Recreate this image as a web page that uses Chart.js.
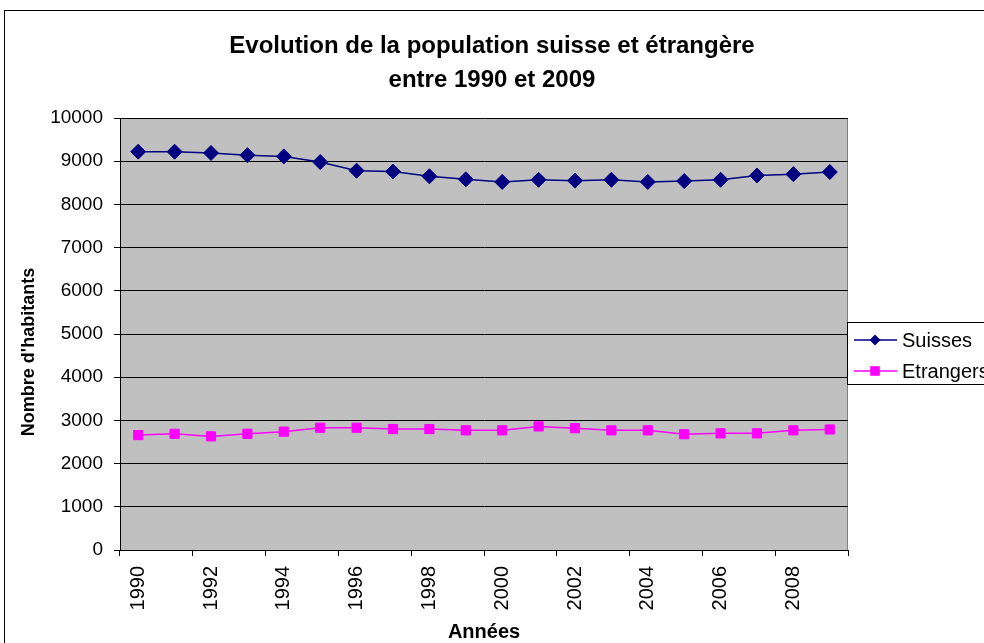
<!DOCTYPE html>
<html>
<head>
<meta charset="utf-8">
<script src="https://cdn.jsdelivr.net/npm/chart.js"></script>
<style>
html,body{margin:0;padding:0;background:#fff;overflow:hidden;}
#c{display:block;}
</style>
</head>
<body>
<canvas id="c" width="984" height="643"></canvas>
<script>
// ---- Data ----
const years = ['1990','1991','1992','1993','1994','1995','1996','1997','1998','1999','2000','2001','2002','2003','2004','2005','2006','2007','2008','2009'];
const suisses = [9220, 9220, 9190, 9140, 9110, 8980, 8780, 8760, 8650, 8580, 8520, 8570, 8550, 8570, 8520, 8540, 8570, 8670, 8700, 8750];
const etrangers = [2660, 2690, 2630, 2690, 2740, 2830, 2830, 2800, 2800, 2770, 2770, 2860, 2820, 2770, 2770, 2680, 2700, 2700, 2770, 2790];
const seriesNames = ['Suisses', 'Etrangers'];
const titleLines = ['Evolution de la population suisse et étrangère', 'entre 1990 et 2009'];
const yTitle = "Nombre d'habitants";
const xTitle = 'Années';

const FONT = "'Liberation Sans', Arial, sans-serif";

const framePlugin = {
  id: 'frame',
  beforeDraw(chart) {
    const ctx = chart.ctx, a = chart.chartArea;
    ctx.save();
    ctx.fillStyle = '#fff';
    ctx.fillRect(0, 0, chart.width, chart.height);
    ctx.strokeStyle = '#000';
    ctx.lineWidth = 1;
    ctx.strokeRect(4.5, 10.5, 1200, 1000);
    ctx.fillStyle = '#C0C0C0';
    ctx.fillRect(a.left, a.top, a.right - a.left, a.bottom - a.top);
    ctx.strokeStyle = '#808080';
    ctx.beginPath();
    ctx.moveTo(a.right - 0.5, a.top);
    ctx.lineTo(a.right - 0.5, a.bottom);
    ctx.stroke();
    ctx.restore();
  },
  afterDraw(chart) {
    const ctx = chart.ctx;
    ctx.save();
    // y axis title
    ctx.fillStyle = '#000';
    ctx.font = 'bold 18px ' + FONT;
    ctx.textAlign = 'center';
    ctx.textBaseline = 'middle';
    ctx.translate(29, 352);
    ctx.rotate(-Math.PI / 2);
    ctx.fillText(yTitle, 0, 0);
    ctx.restore();

    // legend
    ctx.save();
    const x = 847.5, y = 322.5, w = 300, h = 62;
    ctx.fillStyle = '#fff';
    ctx.fillRect(x, y, w, h);
    ctx.strokeStyle = '#000';
    ctx.lineWidth = 1;
    ctx.strokeRect(x, y, w, h);
    chart.data.datasets.forEach((ds, i) => {
      const cy = 340 + i * 31;
      ctx.strokeStyle = ds.borderColor;
      ctx.lineWidth = 1.5;
      ctx.beginPath();
      ctx.moveTo(854, cy);
      ctx.lineTo(897, cy);
      ctx.stroke();
      ctx.fillStyle = ds.backgroundColor;
      ctx.beginPath();
      if (ds.pointStyle === 'rectRot') {
        const s = 5.5;
        ctx.moveTo(875 - s, cy); ctx.lineTo(875, cy - s); ctx.lineTo(875 + s, cy); ctx.lineTo(875, cy + s);
        ctx.closePath();
      } else {
        const s = 4.8;
        ctx.rect(875 - s, cy - s, 2 * s, 2 * s);
      }
      ctx.fill();
      ctx.fillStyle = '#000';
      ctx.font = '20px ' + FONT;
      ctx.textAlign = 'left';
      ctx.textBaseline = 'middle';
      ctx.fillText(ds.label, 902, cy + 1);
    });
    ctx.restore();
  }
};

new Chart(document.getElementById('c'), {
  type: 'line',
  data: {
    labels: years,
    datasets: [
      {
        label: seriesNames[0],
        data: suisses,
        borderColor: '#000080',
        backgroundColor: '#000080',
        borderWidth: 1.5,
        pointStyle: 'rectRot',
        pointRadius: 7.5,
        pointBorderWidth: 1,
        pointBackgroundColor: '#000080',
        pointBorderColor: '#000080',
        tension: 0,
        yAxisID: 'y'
      },
      {
        label: seriesNames[1],
        data: etrangers,
        borderColor: '#FF00FF',
        backgroundColor: '#FF00FF',
        borderWidth: 1.5,
        pointStyle: 'rect',
        pointRadius: 6.5,
        pointBorderWidth: 1,
        pointBackgroundColor: '#FF00FF',
        pointBorderColor: '#FF00FF',
        tension: 0,
        yAxisID: 'y'
      }
    ]
  },
  options: {
    responsive: false,
    animation: false,
    devicePixelRatio: 1,
    layout: { padding: 0 },
    plugins: {
      legend: { display: false },
      tooltip: { enabled: false },
      title: {
        display: true,
        text: titleLines,
        color: '#000',
        font: { family: FONT, size: 24, weight: 'bold', lineHeight: '34px' },
        padding: { top: 29, bottom: 21 }
      }
    },
    scales: {
      x: {
        type: 'category',
        offset: true,
        afterFit(s) { s.height = 93; },
        grid: {
          offset: true,
          drawOnChartArea: false,
          drawTicks: true,
          tickLength: 6,
          tickColor: (c) => (c.index === undefined || c.index % 2 === 0) ? '#000' : 'rgba(0,0,0,0)'
        },
        border: { display: true, color: '#000', width: 1 },
        ticks: {
          autoSkip: false,
          minRotation: 90,
          maxRotation: 90,
          padding: 10,
          color: '#000',
          font: { family: FONT, size: 20 },
          callback(v, i) { return i % 2 === 0 ? this.getLabelForValue(v) : ''; }
        },
        title: {
          display: true,
          text: xTitle,
          color: '#000',
          font: { family: FONT, size: 20, weight: 'bold', lineHeight: 1 },
          padding: { top: 0, bottom: 1 }
        }
      },
      y: {
        position: 'left',
        min: 0,
        max: 10000,
        afterFit(s) { s.width = 120; },
        grid: { color: '#000', lineWidth: 1, tickLength: 6, drawTicks: true },
        border: { display: true, color: '#000', width: 1 },
        ticks: {
          stepSize: 1000,
          padding: 11,
          color: '#000',
          font: { family: FONT, size: 19 },
          callback(v) { return String(v); }
        }
      },
      yRight: {
        position: 'right',
        display: true,
        afterFit(s) { s.width = 136; },
        grid: { display: false },
        border: { display: false },
        ticks: { display: false }
      }
    }
  },
  plugins: [framePlugin]
});
</script>
</body>
</html>
